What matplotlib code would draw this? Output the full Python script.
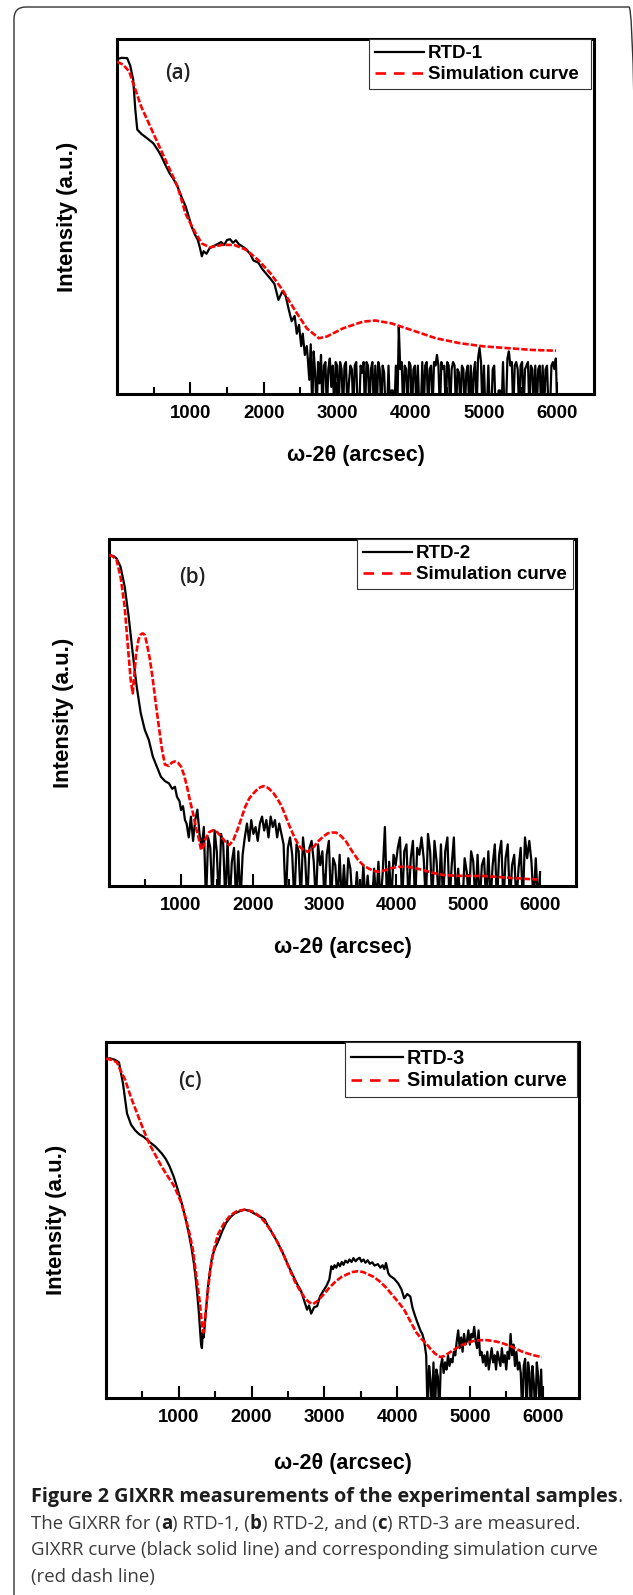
import numpy as np
import matplotlib
matplotlib.use("Agg")
import matplotlib.pyplot as plt
from matplotlib.patches import FancyBboxPatch
from matplotlib.lines import Line2D

W, H, DPI = 633, 1595, 100

# ----------------------------------------------------------------- data
# y values are intensity in arbitrary units (0 = bottom of frame, 100 = top)
# values below 0 are noise-floor drop-outs (clipped by the frame)

# (a) RTD-1 measured curve (smooth part)
a_meas_x = [0, 60, 139, 180, 221, 250, 276, 330, 400, 496,
            560, 606, 660, 716, 770, 826, 880, 936, 980, 1018,
            1060, 1101, 1130, 1156, 1180, 1220, 1260, 1300, 1376, 1420,
            1460, 1500, 1541, 1580, 1620, 1660, 1706, 1760, 1816, 1860,
            1926, 1980, 2036, 2090, 2146, 2200, 2256, 2300, 2338, 2380,
            2421, 2450, 2480, 2510, 2531, 2560, 2586]
a_meas_y = [94.3, 94.7, 94.6, 92.5, 88.5, 80.0, 74.5, 73.3, 72.2, 70.6,
            68.6, 66.9, 64.5, 62.2, 60.5, 58.4, 55.5, 52.8, 49.8, 47.1,
            45.0, 43.4, 41.2, 38.8, 40.2, 39.5, 41.0, 41.5, 42.3, 42.8,
            42.0, 43.4, 43.6, 42.6, 43.3, 42.2, 41.6, 40.8, 39.4, 37.6,
            37.0, 35.2, 33.8, 32.5, 31.0, 26.5, 29.0, 27.5, 24.0, 20.5,
            22.0, 17.0, 19.5, 13.5, 17.0, 11.0, 13.5]
# (a) RTD-1 measured curve, noisy tail (2600 .. 6000 arcsec, every 20 arcsec)
a_noise_start, a_noise_step = 2600, 20
a_noise_y = [10, 4, 14, -5, 12, 6, -5, 9, 3, 11,
             -5, 8, 9, -5, 7, 10, 2, 8, -5, 9,
             8, -5, 9, 7, -5, 8, 9, -5, 3, 8,
             7, -5, 8, 9, -5, -5, 8, 6, 9, -5,
             9, 8, -5, 7, 9, -5, 8, -5, 9, 7,
             -5, 8, 6, -5, -5, 8, -5, 1, 1, -5,
             8, -5, 19, 7, 9, -5, 8, 7, -5, 9,
             8, -5, 7, 8, -5, 8, -5, -5, 9, -5,
             8, 9, -5, 7, 8, -5, 9, 8, 11, 8,
             -5, 9, 7, 8, -5, 9, 8, -5, 7, 9,
             8, -5, 7, 6, -5, 8, 7, -5, 6, 8,
             -5, 8, -5, 6, 9, -5, 10, 13, 9, -5,
             8, -5, -5, 8, -5, -5, 7, 8, -5, -5,
             1, 1, -5, 9, -5, -5, 10, 12, 8, 9,
             -5, 8, 9, 7, -5, 8, 9, -5, 7, 8,
             9, -5, 8, 7, -5, 8, -5, 7, 8, -5,
             8, -5, 7, 8, -5, -5, 8, 9, 7, 10,
             -5]
# (a) simulation
a_sim_x = [0, 80, 166, 221, 331, 496, 661, 826, 936, 1046,
           1156, 1266, 1431, 1596, 1761, 1926, 2091, 2256, 2421, 2586,
           2751, 2861, 3080, 3355, 3520, 3740, 4015, 4345, 4674, 5005,
           5335, 5665, 5984]
a_sim_y = [93.6, 92.8, 90.9, 87.5, 80.9, 73.4, 65.9, 58.4, 50.7, 46.2,
           42.4, 41.3, 42.0, 42.0, 40.6, 37.7, 34.0, 29.3, 23.7, 18.5,
           15.7, 16.2, 18.5, 20.4, 20.7, 19.9, 18.0, 15.7, 14.3, 13.4,
           12.9, 12.4, 12.2]

# (b) RTD-2 measured curve
b_meas_x = [0, 60, 105, 161, 218, 274, 330, 386, 442, 498,
            554, 610, 666, 722, 780, 834, 880, 918, 946, 980,
            1003, 1030, 1058]
b_meas_y = [95.4, 95.1, 94.4, 92.0, 86.3, 77.6, 67.1, 57.4, 49.8, 45.0,
            42.1, 37.3, 34.4, 31.5, 30.2, 29.6, 28.0, 28.6, 25.7, 24.5,
            21.9, 23.0, 19.0]
b_noise_start, b_noise_step = 1080, 30
b_noise_y = [18, 14, 20, 13, 19, 22, 15, 11, 17, -5,
             14, 11, -5, 16, 10, -5, 15, 12, -5, 13,
             -5, 7, 11, -5, 10, -5, 9, 14, 18, 13,
             19, 15, 17, 13, 18, 20, 16, 19, 14, 20,
             17, 19, 14, 18, 15, 12, -5, 11, 14, 9,
             -5, 12, 10, -5, 14, 8, -5, 11, 13, 7,
             -5, 12, 6, 10, -5, 9, 13, -5, 8, 6,
             -5, 9, -5, 6, -5, 8, 5, -5, -5, 4,
             -5, -5, 6, -5, 3, -5, -5, 5, -5, 7,
             -5, 4, 17, -5, 7, -5, 9, 6, 11, 14,
             -5, 10, 12, -5, 8, 13, -5, 11, 9, 14,
             8, -5, 15, 10, -5, 13, 7, -5, 12, -5,
             10, 14, -5, 6, 14, -5, 5, -5, -5, 8,
             4, -5, 10, 7, -5, 9, -5, 6, 8, -5,
             10, -5, 6, 12, -5, 9, 13, -5, 8, 12,
             -5, 6, 9, -5, 5, 11, -5, 14, 8, 13,
             7, -5, 8, -5, 4]
b_sim_x = [0, 50, 105, 161, 218, 263, 302, 330, 352, 375,
           410, 442, 470, 500, 526, 568, 610, 652, 694, 736,
           778, 834, 876, 918, 960, 1003, 1044, 1086, 1128, 1170,
           1212, 1254, 1282, 1310, 1338, 1394, 1450, 1506, 1562, 1618,
           1674, 1730, 1786, 1842, 1898, 1954, 2010, 2080, 2150, 2220,
           2291, 2348, 2404, 2460, 2516, 2586, 2655, 2712, 2768, 2838,
           2908, 2978, 3048, 3104, 3160, 3230, 3300, 3384, 3468, 3538,
           3609, 3679, 3749, 3833, 3917, 4030, 4142, 4254, 4366, 4506,
           4646, 4786, 4927, 5067, 5207, 5347, 5487, 5599, 5711, 5837,
           5963]
b_sim_y = [95.4, 95.0, 94.0, 89.1, 80.5, 69.0, 59.4, 55.5, 60.5, 66.5,
           71.0, 72.5, 72.8, 72.3, 69.9, 65.5, 59.4, 52.5, 45.9, 39.5,
           35.0, 34.6, 35.6, 35.9, 35.5, 34.4, 32.0, 28.6, 24.5, 20.9,
           16.8, 13.3, 10.4, 11.2, 13.3, 15.5, 16.1, 15.5, 14.2, 12.8,
           11.8, 13.2, 16.1, 19.5, 22.9, 25.3, 26.7, 28.2, 28.8, 28.2,
           26.7, 25.0, 22.9, 20.0, 17.1, 13.8, 11.3, 10.3, 9.9, 11.0,
           12.8, 14.2, 15.2, 15.4, 15.4, 14.4, 12.8, 10.0, 7.5, 6.0,
           5.1, 4.4, 4.1, 4.5, 5.1, 5.5, 5.6, 5.2, 4.6, 3.8,
           3.2, 3.0, 2.9, 2.9, 2.9, 2.7, 2.5, 2.3, 2.2, 2.0,
           1.9]

# (c) RTD-3 measured curve
c_meas_x = [0, 60, 122, 178, 233, 289, 344, 400, 456, 520,
            595, 680, 762, 820, 873, 930, 984, 1040, 1095, 1140,
            1179, 1210, 1234, 1255, 1273, 1290, 1306, 1318, 1329, 1343,
            1357, 1380, 1401, 1430, 1457, 1500, 1540, 1600, 1651, 1710,
            1763, 1830, 1901, 1970, 2040, 2110, 2179, 2220, 2263, 2350,
            2430, 2510, 2596, 2640, 2680, 2720, 2763, 2790, 2819, 2860,
            2902, 2940, 2986, 3030, 3069, 3097, 3120, 3140, 3165, 3190,
            3215, 3240, 3264, 3290, 3320, 3345, 3375, 3400, 3430, 3455,
            3486, 3510, 3540, 3565, 3597, 3625, 3660, 3690, 3737, 3770,
            3800, 3825, 3848, 3880, 3904, 3960, 4015, 4060, 4098, 4140,
            4182, 4210, 4237, 4265, 4292, 4320, 4348, 4370]
c_meas_y = [95.3, 95.4, 95.0, 94.3, 88.4, 79.9, 76.8, 75.2, 74.1, 73.3,
            72.0, 70.6, 68.8, 67.2, 65.1, 62.2, 58.7, 54.8, 50.2, 46.0,
            41.7, 37.5, 33.3, 29.0, 24.8, 20.0, 15.2, 14.0, 18.4, 17.0,
            20.5, 26.0, 31.1, 35.8, 39.6, 42.2, 43.9, 47.0, 49.2, 50.8,
            51.8, 52.4, 52.9, 52.6, 51.8, 51.0, 50.2, 48.5, 47.1, 44.0,
            40.7, 37.0, 33.3, 31.5, 30.1, 27.5, 24.8, 26.0, 23.7, 25.5,
            25.8, 28.5, 30.1, 31.5, 33.3, 37.0, 36.2, 37.3, 36.6, 37.9,
            37.0, 38.2, 37.4, 38.6, 38.0, 38.9, 38.2, 39.3, 38.4, 39.0,
            39.4, 38.3, 38.9, 38.0, 38.7, 37.7, 38.1, 37.2, 37.6, 36.6,
            37.3, 36.2, 37.9, 35.0, 34.3, 33.5, 32.2, 30.5, 28.0, 29.2,
            28.5, 25.5, 23.7, 22.0, 20.5, 19.0, 17.9, 16.3]
c_noise_start, c_noise_step = 4400, 20
c_noise_y = [12, -5, 9, 5, -5, 10, -5, 8, 6, -5,
             9, 11, 7, 10, 8, 12, 9, 11, 10, 13,
             12, 16, 19, 14, 17, 13, 18, 15, 16, 19,
             15, 18, 17, 20, 16, 14, 19, 12, 13, 10,
             12, 9, 13, 8, 11, 14, 10, 12, 8, 13,
             11, 9, 14, 10, 12, 8, 13, 11, 18, 12,
             15, 9, 13, 8, 10, 7, -5, 9, 11, -5,
             10, 7, -5, 9, 4, -5, 10, 6, -5, 8,
             -5]
c_sim_x = [0, 80, 150, 200, 261, 340, 428, 510, 595, 680,
           762, 845, 928, 985, 1040, 1095, 1150, 1195, 1234, 1262,
           1289, 1312, 1335, 1355, 1373, 1400, 1429, 1480, 1540, 1620,
           1707, 1800, 1901, 2000, 2096, 2180, 2263, 2350, 2430, 2510,
           2596, 2665, 2735, 2790, 2847, 2910, 2986, 3070, 3153, 3235,
           3320, 3390, 3459, 3530, 3597, 3680, 3764, 3850, 3931, 4015,
           4098, 4180, 4265, 4335, 4404, 4460, 4515, 4560, 4598, 4650,
           4709, 4790, 4876, 4960, 5043, 5125, 5210, 5290, 5377, 5460,
           5544, 5628, 5711, 5794, 5877, 5989]
c_sim_y = [95.3, 95.0, 94.3, 92.0, 89.5, 84.6, 79.9, 75.6, 71.4, 68.2,
           65.1, 62.4, 59.8, 57.3, 54.5, 50.5, 46.0, 41.5, 35.4, 31.0,
           26.9, 22.0, 18.4, 21.0, 24.8, 30.0, 35.4, 41.5, 46.0, 49.0,
           51.3, 52.5, 52.9, 52.5, 51.3, 49.5, 47.1, 44.0, 40.7, 36.8,
           32.7, 30.2, 28.0, 26.9, 26.4, 27.3, 29.0, 31.0, 32.7, 34.0,
           34.8, 35.4, 35.6, 35.4, 34.8, 34.0, 32.7, 31.0, 29.0, 27.0,
           24.8, 21.6, 18.4, 16.6, 15.2, 13.8, 12.6, 11.9, 11.5, 11.8,
           12.6, 13.7, 14.7, 15.4, 16.0, 16.2, 16.3, 16.1, 15.8, 15.3,
           14.7, 13.9, 13.1, 12.5, 12.0, 11.5]

x_major_ticks = [1000, 2000, 3000, 4000, 5000, 6000]
x_tick_labels = ["1000", "2000", "3000", "4000", "5000", "6000"]
x_minor_ticks = [500, 1500, 2500, 3500, 4500, 5500]
panel_labels = ["(a)", "(b)", "(c)"]
sample_names = ["RTD-1", "RTD-2", "RTD-3"]
sim_name = "Simulation curve"
x_title = "ω-2θ (arcsec)"
y_title = "Intensity (a.u.)"

# ----------------------------------------------------------------- style
FONT = ["Liberation Sans", "DejaVu Sans"]
CAPFONT = ["Open Sans", "DejaVu Sans"]

panels = [
    dict(rect=(117, 39, 594, 394), lab=(0.128, 0.904),
         leg=(0.528, 0.851, 0.994, 1.0), xl=-0.172, yl=-0.103, lfs=13.5),
    dict(rect=(109, 539, 576, 886), lab=(0.178, 0.888),
         leg=(0.531, 0.85, 0.994, 1.0), xl=-0.176, yl=-0.0985, lfs=13.5),
    dict(rect=(106, 1042, 579, 1398), lab=(0.178, 0.888),
         leg=(0.505, 0.84, 0.996, 1.0), xl=-0.183, yl=-0.1036, lfs=14.2),
]

meas = [
    (a_meas_x, a_meas_y, a_noise_start, a_noise_step, a_noise_y),
    (b_meas_x, b_meas_y, b_noise_start, b_noise_step, b_noise_y),
    (c_meas_x, c_meas_y, c_noise_start, c_noise_step, c_noise_y),
]
sims = [(a_sim_x, a_sim_y), (b_sim_x, b_sim_y), (c_sim_x, c_sim_y)]

fig = plt.figure(figsize=(W / DPI, H / DPI), dpi=DPI)
fig.patch.set_facecolor("white")

# outer rounded frame (pixel coordinates, right side runs off the page)
frame = FancyBboxPatch((14, -30), 627, H - 7 + 30,
                       boxstyle="round,pad=0,rounding_size=12",
                       transform=None, fill=False, edgecolor="#333333",
                       linewidth=1.0)
fig.patches.append(frame)


def px_rect(l, t, r, b):
    return [l / W, 1 - b / H, (r - l) / W, (b - t) / H]


for i, p in enumerate(panels):
    ax = fig.add_axes(px_rect(*p["rect"]))
    mx, my, ns, nst, ny = meas[i]
    nx = ns + nst * np.arange(len(ny))
    full_x = np.concatenate([mx, nx])
    full_y = np.concatenate([my, ny])
    sx, sy = sims[i]
    ax.plot(full_x, full_y, color="black", lw=1.6, zorder=2)
    ax.plot(sx, sy, color="red", lw=1.9, dashes=(2.4, 0.8), zorder=3)

    ax.set_xlim(0, 6500)
    ax.set_ylim(0, 100)
    ax.set_yticks([])
    ax.set_xticks(x_major_ticks)
    ax.set_xticklabels(x_tick_labels, family=FONT, weight="bold", size=13.4)
    ax.set_xticks(x_minor_ticks, minor=True)
    ax.tick_params(axis="x", which="major", direction="in", length=8.5,
                   width=1.5, pad=8)
    ax.tick_params(axis="x", which="minor", direction="in", length=5,
                   width=1.5)
    for s in ax.spines.values():
        s.set_linewidth(2.2)

    ax.set_xlabel(x_title, family=FONT, weight="bold", size=15.5, va="center")
    ax.xaxis.set_label_coords(0.5, p["xl"])
    ax.set_ylabel(y_title, family=FONT, weight="bold", size=16, va="center")
    ax.yaxis.set_label_coords(p["yl"], 0.5)

    ax.text(p["lab"][0], p["lab"][1], panel_labels[i], transform=ax.transAxes,
            ha="center", va="center", size=15, family=CAPFONT,
            weight="semibold", color="#222222")

    handles = [Line2D([], [], color="black", lw=1.6),
               Line2D([], [], color="red", lw=1.9, dashes=(4, 3))]
    x0, y0, x1, y1 = p["leg"]
    leg = ax.legend(handles, [sample_names[i], sim_name], loc="upper left",
                    bbox_to_anchor=(x0, y0, x1 - x0, y1 - y0), mode="expand",
                    borderaxespad=0, frameon=True, fancybox=False,
                    framealpha=1, edgecolor="#333333",
                    prop=dict(family=FONT, weight="bold", size=p["lfs"]),
                    handlelength=2.6, handletextpad=0.2, borderpad=0.33,
                    labelspacing=0.2)
    leg.get_frame().set_linewidth(0.8)

# ----------------------------------------------------------------- caption
fig.canvas.draw()
renderer = fig.canvas.get_renderer()
caption_lines = [
    (1497, [("Figure 2 GIXRR measurements of the experimental samples", "bold", 14.3),
            (".", "normal", 14.3)]),
    (1524, [("The GIXRR for (", "normal", 13.4), ("a", "bold", 13.4),
            (") RTD-1, (", "normal", 13.4), ("b", "bold", 13.4),
            (") RTD-2, and (", "normal", 13.4), ("c", "bold", 13.4),
            (") RTD-3 are measured.", "normal", 13.4)]),
    (1550, [("GIXRR curve (black solid line) and corresponding simulation curve",
             "normal", 13.4)]),
    (1577, [("(red dash line)", "normal", 13.4)]),
]
for y_px, parts in caption_lines:
    x_px = 31.0
    for txt, wt, sz in parts:
        col = "#1e1e1e" if wt == "bold" else "#3c3c3c"
        t = fig.text(x_px / W, 1 - y_px / H, txt, family=CAPFONT, weight=wt,
                     size=sz, color=col, ha="left", va="center")
        bb = t.get_window_extent(renderer)
        x_px = bb.x1

fig.savefig("out.png", dpi=DPI, facecolor="white")
